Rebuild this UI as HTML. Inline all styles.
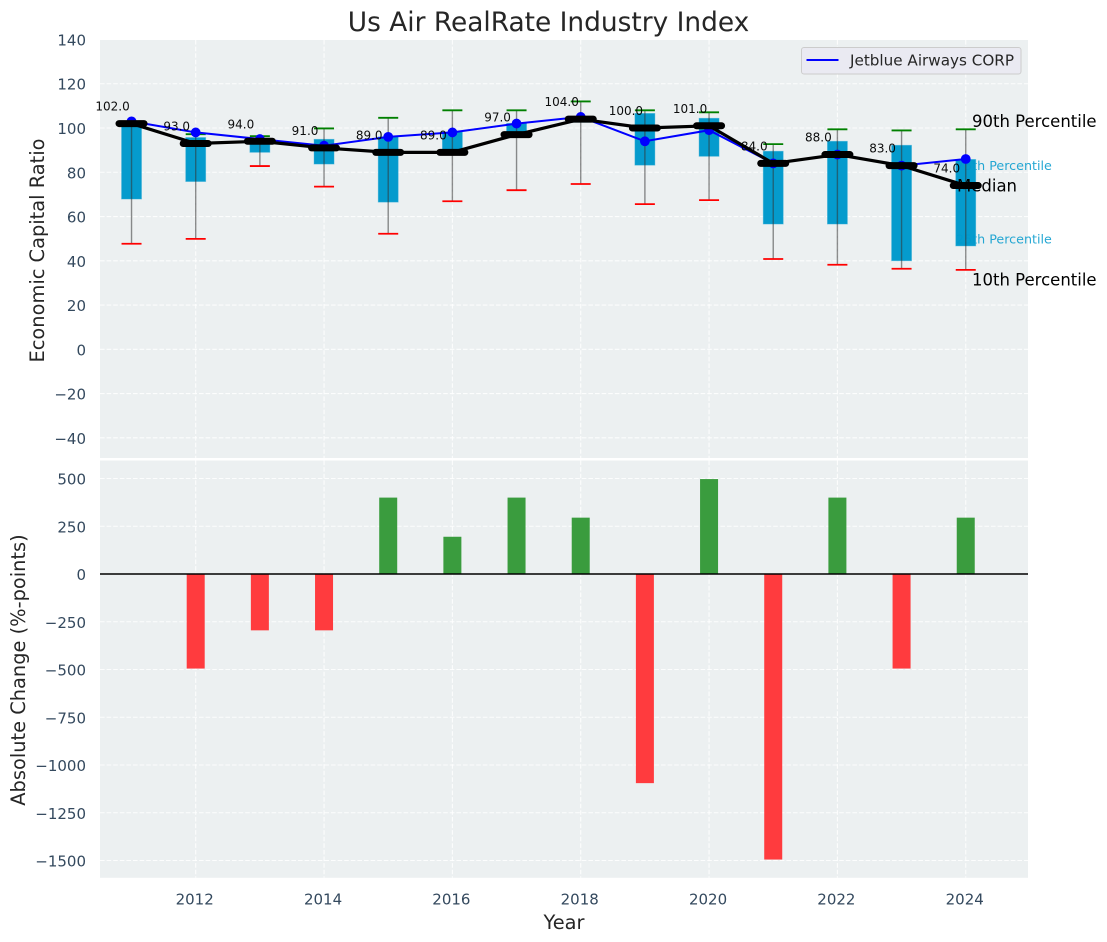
<!DOCTYPE html>
<html>
<head>
<meta charset="utf-8">
<title>Us Air RealRate Industry Index</title>
<style>
html,body{margin:0;padding:0;background:#fff;width:1107px;height:942px;overflow:hidden}
svg{display:block;font-family:"DejaVu Sans","Liberation Sans",sans-serif}
</style>
</head>
<body>
<svg id="chart" width="1107" height="942" viewBox="0 0 1107 942" xmlns="http://www.w3.org/2000/svg"></svg>
<script>
const years = [2011,2012,2013,2014,2015,2016,2017,2018,2019,2020,2021,2022,2023,2024];
const p10 = [47.7,49.9,82.8,73.5,52.2,66.9,71.9,74.7,65.6,67.4,40.8,38.2,36.4,35.9];
const p25 = [67.9,75.8,89,83.7,66.5,89,96.7,102.6,83.2,87.2,56.6,56.6,40,46.7];
const medianValues = [102,93,94,91,89,89,97,104,100,101,84,88,83,74];
const p75 = [102.6,95.7,94.7,94.9,96,98.2,102.1,104.6,106.6,104.4,89.5,94,92.2,85.8];
const p90 = [102.6,97.2,96.3,99.8,104.6,108,108,112,108,107.1,92.7,99.4,98.9,99.4];
const companyValues = [103,98,95,92,96,98,102,105,94,99,84,88,83,86];
const changeYears = [2012,2013,2014,2015,2016,2017,2018,2019,2020,2021,2022,2023,2024];
const changeValues = [-495,-295,-295,400,195,400,295,-1095,497,-1495,400,-495,295];
const xTicks = [2012,2014,2016,2018,2020,2022,2024];
const yTicksTop = [140,120,100,80,60,40,20,0,-20,-40];
const yTicksBottom = [500,250,0,-250,-500,-750,-1000,-1250,-1500];

const NS = 'http://www.w3.org/2000/svg';
const svg = document.getElementById('chart');
const X = v => 195.7 + (v - 2012) * 64.17;
const YT = v => 349.3 - v * 2.213;
const YB = v => 574 - v * 0.191;
const fmt = v => String(v).replace('-', '\u2212');

function mk(tag, attrs, parent) {
  const el = document.createElementNS(NS, tag);
  for (const k in attrs) el.setAttribute(k, attrs[k]);
  (parent || svg).appendChild(el);
  return el;
}
function txt(s, attrs, parent) {
  const el = mk('text', attrs, parent);
  el.textContent = s;
  return el;
}

// panels
const panelTop = mk('rect', {x:100,y:40,width:928,height:418,fill:'#ecf0f1'});


const panelBottom = mk('rect', {x:100,y:460.5,width:928,height:417.3,fill:'#ecf0f1'});



const gridStyle = {stroke:'#ffffff','stroke-width':1.1,'stroke-dasharray':'4.6 2','stroke-opacity':0.85};

// grid + tick labels
xTicks.forEach(t => {
  const a = mk('line', Object.assign({x1:X(t),x2:X(t),y1:40,y2:458}, gridStyle));
  
  
  const b = mk('line', Object.assign({x1:X(t),x2:X(t),y1:460.5,y2:877.8}, gridStyle));
  
  
  const l = txt(String(t), {x:X(t)-1,y:904.5,'text-anchor':'middle','font-size':15,fill:'#34495e'});
  
  
});
yTicksTop.forEach(t => {
  const g = mk('line', Object.assign({x1:100,x2:1028,y1:YT(t),y2:YT(t)}, gridStyle));
  
  
  const l = txt(fmt(t), {x:86,y:YT(t)+6,'text-anchor':'end','font-size':15,fill:'#34495e'});
  
  
});
yTicksBottom.forEach(t => {
  const g = mk('line', Object.assign({x1:100,x2:1028,y1:YB(t),y2:YB(t)}, gridStyle));
  
  
  const l = txt(fmt(t), {x:86,y:YB(t)+6,'text-anchor':'end','font-size':15,fill:'#34495e'});
  
  
});

const last = years.length - 1;
const lastX = X(years[last]);

// blue percentile labels sit behind the last box
const t75 = txt('75th Percentile', {x:lastX-9.7,y:YT(p75[last])+10.5,'font-size':12.7,fill:'#0099cc','fill-opacity':0.85});


const t25 = txt('25th Percentile', {x:lastX-9.7,y:YT(p25[last])-2.5,'font-size':12.7,fill:'#0099cc','fill-opacity':0.85});



// boxes, whiskers, caps
years.forEach((yr, i) => {
  const x = X(yr);
  const box = mk('rect', {x:x-10,y:YT(p75[i]),width:20,height:YT(p25[i])-YT(p75[i]),fill:'#0099cc','fill-opacity':0.98,stroke:'#39b0d8','stroke-opacity':0.5,'stroke-width':0.8});
  
  
  const w = mk('line', {x1:x,x2:x,y1:YT(p90[i]),y2:YT(p10[i]),stroke:'#333333','stroke-opacity':0.55,'stroke-width':1.4});
  
  
  const hi = mk('line', {x1:x-10,x2:x+10,y1:YT(p90[i]),y2:YT(p90[i]),stroke:'#008000','stroke-width':1.8});
  
  
  const lo = mk('line', {x1:x-10,x2:x+10,y1:YT(p10[i]),y2:YT(p10[i]),stroke:'#ff0000','stroke-width':1.8});
  
  
});

// company series
const companyLine = mk('polyline', {points:years.map((y,i)=>X(y)+','+YT(companyValues[i])).join(' '),fill:'none',stroke:'#0000ff','stroke-width':2});


years.forEach((yr, i) => {
  const c = mk('circle', {cx:X(yr),cy:YT(companyValues[i]),r:4.9,fill:'#0000ff'});
  
  
});

// median series
const medianLine = mk('polyline', {points:years.map((y,i)=>X(y)+','+YT(medianValues[i])).join(' '),fill:'none',stroke:'#000000','stroke-width':3.2,'stroke-linejoin':'round'});


years.forEach((yr, i) => {
  const x = X(yr), y = YT(medianValues[i]);
  const m = mk('line', {x1:x-12.5,x2:x+12.5,y1:y,y2:y,stroke:'#000000','stroke-width':7,'stroke-linecap':'round'});
  
  
  const a = txt(medianValues[i].toFixed(1), {x:x-19,y:y-13,'text-anchor':'middle','font-size':12,fill:'#000000','fill-opacity':0.95});
  
  
});

// black percentile labels
const t90 = txt('90th Percentile', {x:972,y:YT(p90[last])-2.5,'font-size':16.5,fill:'#000000'});


const tMed = txt('Median', {x:957,y:YT(medianValues[last])+6,'font-size':16.5,fill:'#000000'});


const t10 = txt('10th Percentile', {x:972,y:YT(p10[last])+15.5,'font-size':16.5,fill:'#000000'});



// change bars
changeYears.forEach((yr, i) => {
  const v = changeValues[i];
  const y0 = YB(Math.max(v, 0));
  const y1 = YB(Math.min(v, 0));
  const b = mk('rect', {x:X(yr)-9,y:y0,width:18,height:y1-y0,fill:v<0?'#ff3b3e':'#3a9c3e'});
  
  
});
const zero = mk('line', {x1:100,x2:1028,y1:YB(0),y2:YB(0),stroke:'#000000','stroke-width':1.4});



// legend
const legend = mk('g', {});


const legendBox = mk('rect', {x:801.5,y:47.5,width:219.5,height:26.5,rx:2.5,fill:'#eaeaf2',stroke:'#cccccc','stroke-width':1}, legend);


const legendLine = mk('line', {x1:806.5,x2:838.5,y1:60,y2:60,stroke:'#0000ff','stroke-width':2}, legend);


const legendText = txt('Jetblue Airways CORP', {x:850,y:65.5,'font-size':15.2,fill:'#262626'}, legend);



// titles
const title = txt('Us Air RealRate Industry Index', {x:548.5,y:31,'text-anchor':'middle','font-size':26.4,fill:'#262626'});


const xTitle = txt('Year', {x:564,y:929,'text-anchor':'middle','font-size':19.4,fill:'#262626'});


const yTitleTop = txt('Economic Capital Ratio', {x:0,y:0,transform:'translate(44,250.5) rotate(-90)','text-anchor':'middle','font-size':19.4,fill:'#262626'});


const yTitleBottom = txt('Absolute Change (%-points)', {x:0,y:0,transform:'translate(25,670) rotate(-90)','text-anchor':'middle','font-size':19.4,fill:'#262626'});


</script>
</body>
</html>
